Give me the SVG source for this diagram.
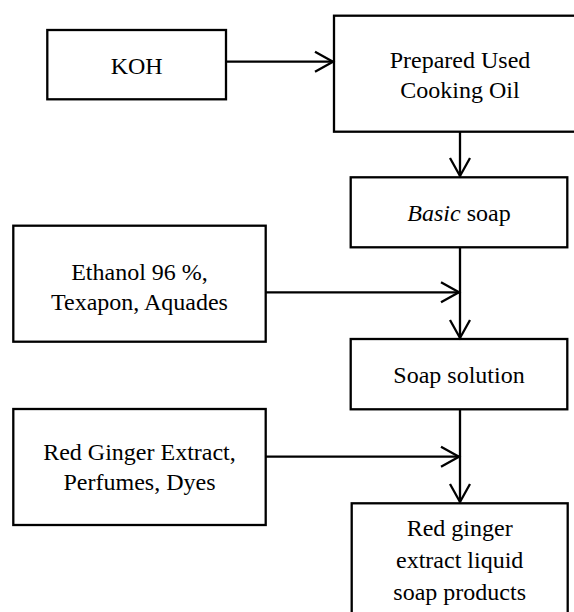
<svg xmlns="http://www.w3.org/2000/svg" width="574" height="612" viewBox="0 0 574 612" font-family="'Liberation Serif', 'Times New Roman', Tinos, 'DejaVu Serif', serif">
<style>
.box{fill:#fff;stroke:#000;stroke-width:2.3}
.t{font-family:'Liberation Serif','Times New Roman',Tinos,'DejaVu Serif',serif;font-size:24px;fill:#000;text-anchor:middle}
.c{fill:none;stroke:#000;stroke-width:2.3}
.h{fill:none;stroke:#000;stroke-width:2.3;stroke-linejoin:miter}
</style>
<rect width="574" height="612" fill="#fff"/>
<g id="koh">
<rect class="box" x="47.3" y="30" width="178.7" height="69.3"/>
<text class="t" x="136.7" y="73.5">KOH</text>
</g>
<g id="oil">
<rect class="box" x="334" y="15.7" width="260" height="116"/>
<text class="t" x="460" y="68">Prepared Used</text>
<text class="t" x="460" y="98">Cooking Oil</text>
</g>
<g id="basic">
<rect class="box" x="350.7" y="177.3" width="216.6" height="70"/>
<text class="t" x="459" y="221"><tspan font-style="italic">Basic</tspan> soap</text>
</g>
<g id="ethanol">
<rect class="box" x="13.3" y="225.7" width="252.4" height="116"/>
<text class="t" x="139.5" y="280">Ethanol 96 %,</text>
<text class="t" x="139.5" y="310">Texapon, Aquades</text>
</g>
<g id="solution">
<rect class="box" x="350.7" y="339" width="216.6" height="70.3"/>
<text class="t" x="459" y="383">Soap solution</text>
</g>
<g id="ginger">
<rect class="box" x="13.3" y="409" width="252.4" height="116"/>
<text class="t" x="139.5" y="460">Red Ginger Extract,</text>
<text class="t" x="139.5" y="490">Perfumes, Dyes</text>
</g>
<g id="product">
<rect class="box" x="351.7" y="503.3" width="216" height="130"/>
<text class="t" x="459.7" y="536">Red ginger</text>
<text class="t" x="459.7" y="568">extract liquid</text>
<text class="t" x="459.7" y="600">soap products</text>
</g>
<g id="connectors">
<line class="c" x1="226" y1="61.7" x2="333" y2="61.7"/>
<polyline class="h" points="315,51.7 333,61.7 315,71.7"/>
<line class="c" x1="460" y1="131.7" x2="460" y2="176"/>
<polyline class="h" points="450,158 460,176 470,158"/>
<line class="c" x1="265.7" y1="292.3" x2="459" y2="292.3"/>
<polyline class="h" points="441,282.3 459,292.3 441,302.3"/>
<line class="c" x1="460" y1="247.3" x2="460" y2="338"/>
<polyline class="h" points="450,320 460,338 470,320"/>
<line class="c" x1="265.7" y1="456.7" x2="459" y2="456.7"/>
<polyline class="h" points="441,446.7 459,456.7 441,466.7"/>
<line class="c" x1="460" y1="409.3" x2="460" y2="502"/>
<polyline class="h" points="450,484 460,502 470,484"/>
</g>
</svg>
